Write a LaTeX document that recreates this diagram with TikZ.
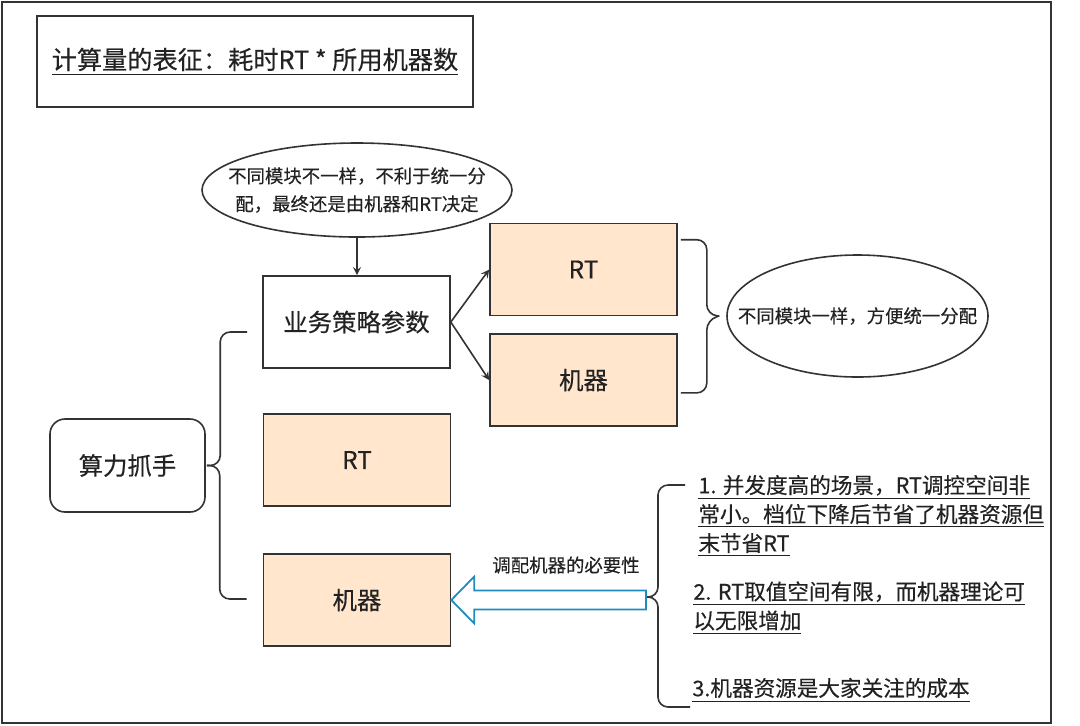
\documentclass[tikz,border=0pt]{standalone}
\usepackage{fontspec}
\setmainfont{Noto Sans CJK SC}[FakeBold=0.35]
\usetikzlibrary{calc, positioning, shapes.geometric}
\definecolor{lineC}{HTML}{333333}
\definecolor{textC}{HTML}{222222}
\definecolor{peachC}{HTML}{FFE6CC}
\definecolor{blueC}{HTML}{1E8CC0}

\begin{document}
\begin{tikzpicture}[x=0.5pt, y=-0.5pt, >=stealth,
  line/.style={draw=lineC, line width=0.8pt},
  box/.style={line, rectangle, text=textC, minimum width=93.5pt, minimum height=46pt,
    font=\fontsize{12.2}{14}\selectfont},
  peach/.style={box, fill=peachC},
  note/.style={line, ellipse, text=textC, align=center, inner xsep=-16pt, inner ysep=0pt,
    font=\fontsize{9.2}{14}\selectfont},
  brace/.style={line, rounded corners=5pt},
  item/.style={anchor=west, align=left, text=textC, inner sep=0pt,
    font=\fontsize{10.8}{14.5}\selectfont},
  hollow/.style={draw=blueC, line width=0.9pt, fill=white, line join=miter}]
  \useasboundingbox (0,0) rectangle (1080,725);
  \draw[line, line width=1pt] (2,2) rectangle (1051,723);

  % title
  \node[box, minimum width=218pt, minimum height=45.5pt, font=\fontsize{12.6}{15}\selectfont]
    (title) at (255,61.5) {\underline{计算量的表征：耗时RT * 所用机器数}};

  % upper branch
  \node[note, minimum width=155pt, minimum height=47pt] (noteTop) at (357,190)
    {不同模块不一样，不利于统一分\\配，最终还是由机器和RT决定};
  \node[box] (params) at (356.5,322) {业务策略参数};
  \node[peach] (rtA) at (583.5,269.5) {RT};
  \node[peach, below=8.5pt of rtA] (jqA) {机器};
  \node[note, minimum width=130.5pt, minimum height=61pt] (noteRight) at (857.5,316)
    {不同模块一样，方便统一分配};
  \draw[line, ->] (noteTop.south) -- (noteTop.south |- params.north);
  \draw[line, ->] (params.east) -- (rtA.west);
  \draw[line, ->] (params.east) -- (jqA.west);
  \coordinate (bR) at ($(noteRight.west)+(-7,0)$);
  \draw[brace] ($(rtA.north east)+(3,17)$) -- ++(26,0) -- ++(0,75) -- (bR);
  \draw[brace] ($(jqA.south east)+(3,-34)$) -- ++(26,0) -- ++(0,-73) -- (bR);

  % root and its children
  \node[box, rounded corners=7.5pt, minimum width=77.5pt, minimum height=46.5pt]
    (root) at (127.5,465.5) {算力抓手};
  \node[peach] (rtB) at (357,460) {RT};
  \node[peach] (jqB) at (357,600) {机器};
  \coordinate (rootTip) at ($(root.east)+(1,0)$);
  \draw[brace] ($(params.west)+(-15,10)$) -- ++(-27,0) -- ++(0,133.5) -- (rootTip);
  \draw[brace] ($(jqB.west)+(-16,-1)$) -- ++(-27,0) -- ++(0,-133.5) -- (rootTip);

  % reasons
  \node[item] (item1) at (698,516)
    {\underline{1. 并发度高的场景，RT调控空间非}\\\underline{常小。档位下降后节省了机器资源但}\\\underline{末节省RT}};
  \node[item] (item2) at (693,608)
    {\underline{2. RT取值空间有限，而机器理论可}\\\underline{以无限增加}};
  \node[item] (item3) at (692,690) {\underline{3.机器资源是大家关注的成本}};
  \coordinate (listTip) at (646,597);
  \draw[brace] (685,485) -- ++(-27,0) -- ++(0,112) -- (listTip);
  \draw[brace] (690,707) -- ++(-32,0) -- ++(0,-110) -- (listTip);

  % hollow arrow
  \draw[hollow] (jqB.east) -- ++(23,-23.5) -- ++(0,14)
    -- ($(listTip |- jqB.east)+(0,-9.5)$) -- ++(0,19)
    -- ($(jqB.east)+(23,9.5)$) -- ++(0,14) -- cycle;
  \node[text=textC, font=\fontsize{9.2}{11}\selectfont] (need) at (566,565) {调配机器的必要性};
\end{tikzpicture}
\end{document}
